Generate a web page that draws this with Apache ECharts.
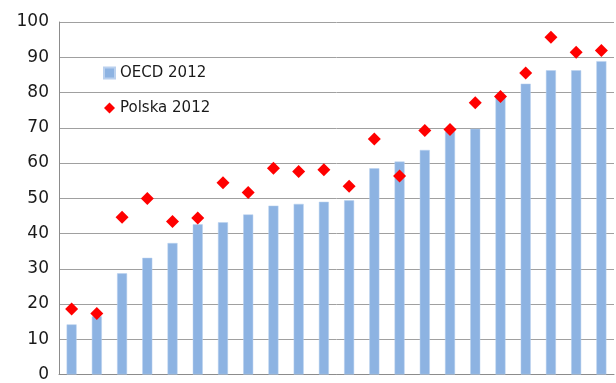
<!DOCTYPE html>
<html>
<head>
<meta charset="utf-8">
<script src="https://cdn.jsdelivr.net/npm/echarts@6/dist/echarts.min.js"></script>
<style>
  html, body { margin: 0; padding: 0; background: #fff; }
  #chart { width: 616px; height: 383px; }
</style>
</head>
<body>
<div id="chart"></div>
<script>
// Category slots (unlabelled on the axis)
const categories = Array.from({ length: 22 }, (_, i) => 'k' + (i + 1));

// OECD average, 2012
const oecd2012 = [14.2, 16.5, 28.7, 33.1, 37.3, 42.6, 43.2, 45.4, 47.9, 48.4, 49.0,
  49.4, 58.5, 60.4, 63.7, 69.0, 69.7, 78.7, 82.5, 86.3, 86.3, 88.9];

// Poland, 2012
const polska2012 = [18.6, 17.3, 44.6, 49.9, 43.4, 44.4, 54.4, 51.6, 58.5, 57.6, 58.1,
  53.4, 66.8, 56.3, 69.2, 69.5, 77.1, 78.9, 85.5, 95.7, 91.4, 91.9];

// Value axis ticks
const yTicks = { min: 0, max: 100, step: 10 };

const chart = echarts.init(document.getElementById('chart'), null, { renderer: 'canvas' });

chart.setOption({
  animation: false,
  textStyle: { fontFamily: 'DejaVu Sans' },
  grid: { left: 59, right: 2, top: 22, bottom: 2, containLabel: false },
  legend: {
    orient: 'vertical',
    left: 98,
    top: 60,
    itemWidth: 11,
    itemHeight: 11,
    itemGap: 19,
    textStyle: { fontSize: 15, color: '#1a1a1a', lineHeight: 16 },
    data: [
      { name: 'OECD 2012', icon: 'rect' },
      { name: 'Polska 2012', icon: 'diamond' }
    ]
  },
  xAxis: {
    type: 'category',
    data: categories,
    axisLine: { show: true, lineStyle: { color: '#8c8c8c', width: 1 } },
    axisTick: { show: false },
    axisLabel: { show: false },
    splitLine: { show: false }
  },
  yAxis: {
    type: 'value',
    min: yTicks.min,
    max: yTicks.max,
    interval: yTicks.step,
    axisLine: { show: true, lineStyle: { color: '#8c8c8c', width: 1 } },
    axisTick: { show: false },
    axisLabel: { fontSize: 17, color: '#1a1a1a', margin: 10 },
    splitLine: { show: true, lineStyle: { color: '#a0a0a0', width: 1 } }
  },
  series: [
    {
      name: 'OECD 2012',
      type: 'bar',
      data: oecd2012,
      barWidth: 10,
      itemStyle: { color: '#8db3e2', borderColor: '#b9d0ee', borderWidth: 0.5 }
    },
    {
      name: 'Polska 2012',
      type: 'scatter',
      data: polska2012,
      symbol: 'diamond',
      symbolSize: 13,
      itemStyle: { color: '#ff0000', opacity: 1 },
      z: 5
    }
  ]
});
</script>
</body>
</html>
